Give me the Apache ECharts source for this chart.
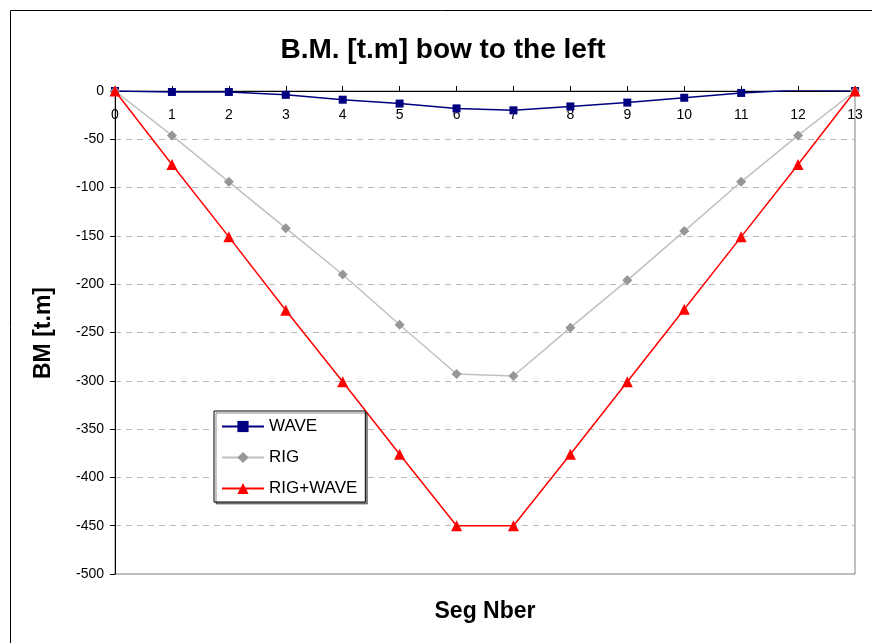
<!DOCTYPE html>
<html>
<head>
<meta charset="utf-8">
<script src="https://cdn.jsdelivr.net/npm/echarts@6/dist/echarts.min.js"></script>
<style>
  html, body { margin: 0; padding: 0; background: #fff; }
  #chart { width: 872px; height: 643px; }
</style>
</head>
<body>
<div id="chart"></div>
<script>
// Segment numbers along the hull
var segments = [0, 1, 2, 3, 4, 5, 6, 7, 8, 9, 10, 11, 12, 13];
// Bending moment per segment [t.m]
var wave = [0, -1, -1, -4, -9, -13, -18, -20, -16, -12, -7, -2, 1, 0];
var rig = [0, -46, -94, -142, -190, -242, -293, -295, -245, -196, -145, -94, -46, 0];
var rigWave = [0, -76, -151, -227, -301, -376, -450, -450, -376, -301, -226, -151, -76, 0];
// Y axis ticks
var yTicks = { min: -500, max: 0, step: 50 };

function pairs(values) {
  return segments.map(function (s, i) { return [s, values[i]]; });
}

var font = '"Liberation Sans", Arial, sans-serif';
var chart = echarts.init(document.getElementById('chart'), null, { renderer: 'canvas' });

chart.setOption({
  animation: false,
  backgroundColor: '#fff',
  textStyle: { fontFamily: font },
  grid: {
    left: 115, right: 17, top: 91, bottom: 69,
    show: true, borderColor: '#808080', borderWidth: 1, backgroundColor: 'transparent'
  },
  xAxis: {
    type: 'value', min: 0, max: 13, interval: 1,
    position: 'top',
    axisLine: { show: true, onZero: false, lineStyle: { color: '#000', width: 1 } },
    axisTick: { show: true, inside: false, length: 5, lineStyle: { color: '#000' } },
    axisLabel: { color: '#000', fontSize: 14, fontFamily: font, inside: true, margin: 17 },
    splitLine: { show: false }
  },
  yAxis: {
    type: 'value', min: yTicks.min, max: yTicks.max, interval: yTicks.step,
    axisLine: { show: true, lineStyle: { color: '#000', width: 1 } },
    axisTick: { show: true, length: 5, lineStyle: { color: '#000' } },
    axisLabel: { color: '#000', fontSize: 14, fontFamily: font, margin: 11 },
    splitLine: { show: true, lineStyle: { color: '#b8b8b8', type: [6, 5], width: 1 } }
  },
  legend: {
    orient: 'vertical', left: 214, top: 411,
    padding: [7, 8, 5, 7],
    itemWidth: 42, itemHeight: 14, itemGap: 14,
    backgroundColor: '#fff', borderColor: '#000', borderWidth: 1,
    shadowColor: 'rgba(0,0,0,0.45)', shadowOffsetX: 2, shadowOffsetY: 2, shadowBlur: 0,
    textStyle: { color: '#000', fontSize: 17, fontFamily: font },
    data: ['WAVE', 'RIG', 'RIG+WAVE']
  },
  series: [
    {
      name: 'WAVE', type: 'line', data: pairs(wave),
      symbol: 'rect', symbolSize: 8,
      lineStyle: { color: '#000080', width: 1.5 },
      itemStyle: { color: '#000080' }
    },
    {
      name: 'RIG', type: 'line', data: pairs(rig),
      symbol: 'diamond', symbolSize: 10,
      lineStyle: { color: '#c0c0c0', width: 1.5 },
      itemStyle: { color: '#969696' }
    },
    {
      name: 'RIG+WAVE', type: 'line', data: pairs(rigWave),
      symbol: 'triangle', symbolSize: 11,
      lineStyle: { color: '#ff0000', width: 1.5 },
      itemStyle: { color: '#ff0000' }
    }
  ],
  graphic: [
    {
      type: 'rect', silent: true, z: -1,
      shape: { x: 10.5, y: 10.5, width: 900, height: 700 },
      style: { fill: 'none', stroke: '#000', lineWidth: 1 }
    },
    {
      type: 'text', x: 443, y: 50,
      style: { text: 'B.M. [t.m] bow to the left', font: 'bold 28px ' + font, fill: '#000', textAlign: 'center', textVerticalAlign: 'middle' }
    },
    {
      type: 'text', x: 485, y: 612,
      style: { text: 'Seg Nber', font: 'bold 23px ' + font, fill: '#000', textAlign: 'center', textVerticalAlign: 'middle' }
    },
    {
      type: 'text', x: 44, y: 333, rotation: Math.PI / 2,
      style: { text: 'BM [t.m]', font: 'bold 23px ' + font, fill: '#000', textAlign: 'center', textVerticalAlign: 'middle' }
    }
  ]
});
</script>
</body>
</html>
